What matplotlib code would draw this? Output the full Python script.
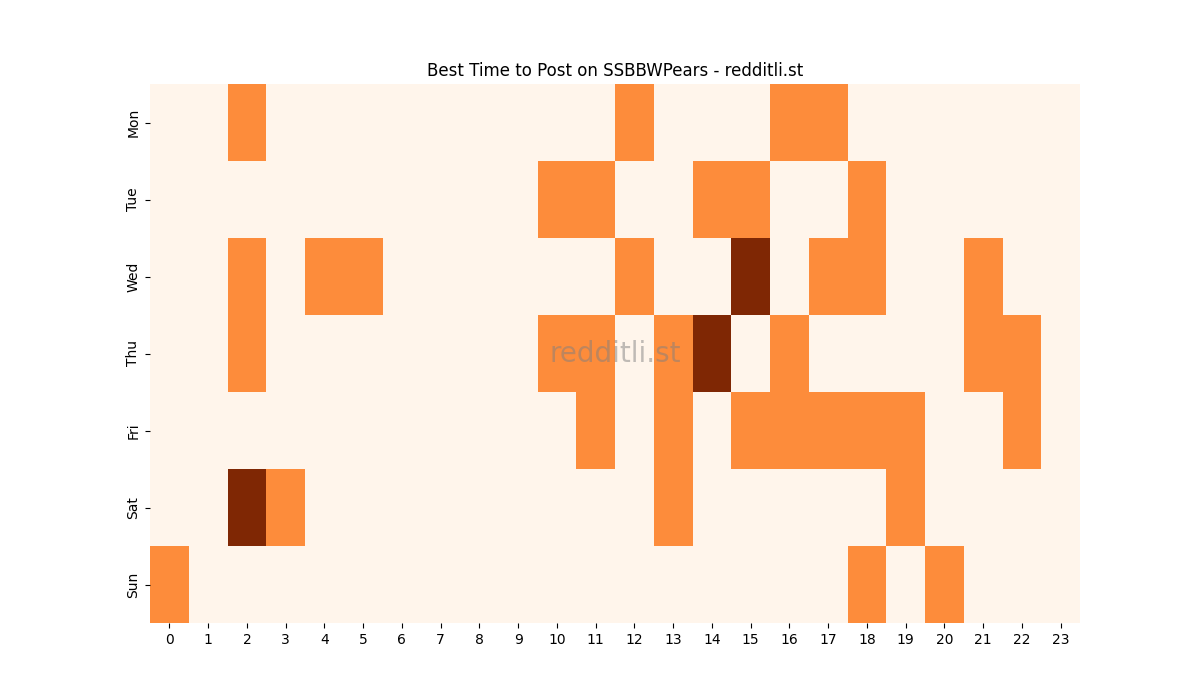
import matplotlib
matplotlib.use("Agg")
import matplotlib.pyplot as plt
import numpy as np
import seaborn as sns

days = ["Mon", "Tue", "Wed", "Thu", "Fri", "Sat", "Sun"]
hours = list(range(24))

mon = [0,0,1,0,0,0,0,0,0,0,0,0,1,0,0,0,1,1,0,0,0,0,0,0]
tue = [0,0,0,0,0,0,0,0,0,0,1,1,0,0,1,1,0,0,1,0,0,0,0,0]
wed = [0,0,1,0,1,1,0,0,0,0,0,0,1,0,0,2,0,1,1,0,0,1,0,0]
thu = [0,0,1,0,0,0,0,0,0,0,1,1,0,1,2,0,1,0,0,0,0,1,1,0]
fri = [0,0,0,0,0,0,0,0,0,0,0,1,0,1,0,1,1,1,1,1,0,0,1,0]
sat = [0,0,2,1,0,0,0,0,0,0,0,0,0,1,0,0,0,0,0,1,0,0,0,0]
sun = [1,0,0,0,0,0,0,0,0,0,0,0,0,0,0,0,0,0,1,0,1,0,0,0]

data = np.array([mon, tue, wed, thu, fri, sat, sun])

fig, ax = plt.subplots(figsize=(12, 7), dpi=100)
sns.heatmap(data, cmap="Oranges", cbar=False, ax=ax,
            xticklabels=hours, yticklabels=days)
ax.set_title("Best Time to Post on SSBBWPears - redditli.st")
ax.text(0.5, 0.5, "redditli.st", transform=ax.transAxes, fontsize=20,
        color="gray", alpha=0.5, ha="center", va="center")
fig.savefig("out.png", dpi=100)
